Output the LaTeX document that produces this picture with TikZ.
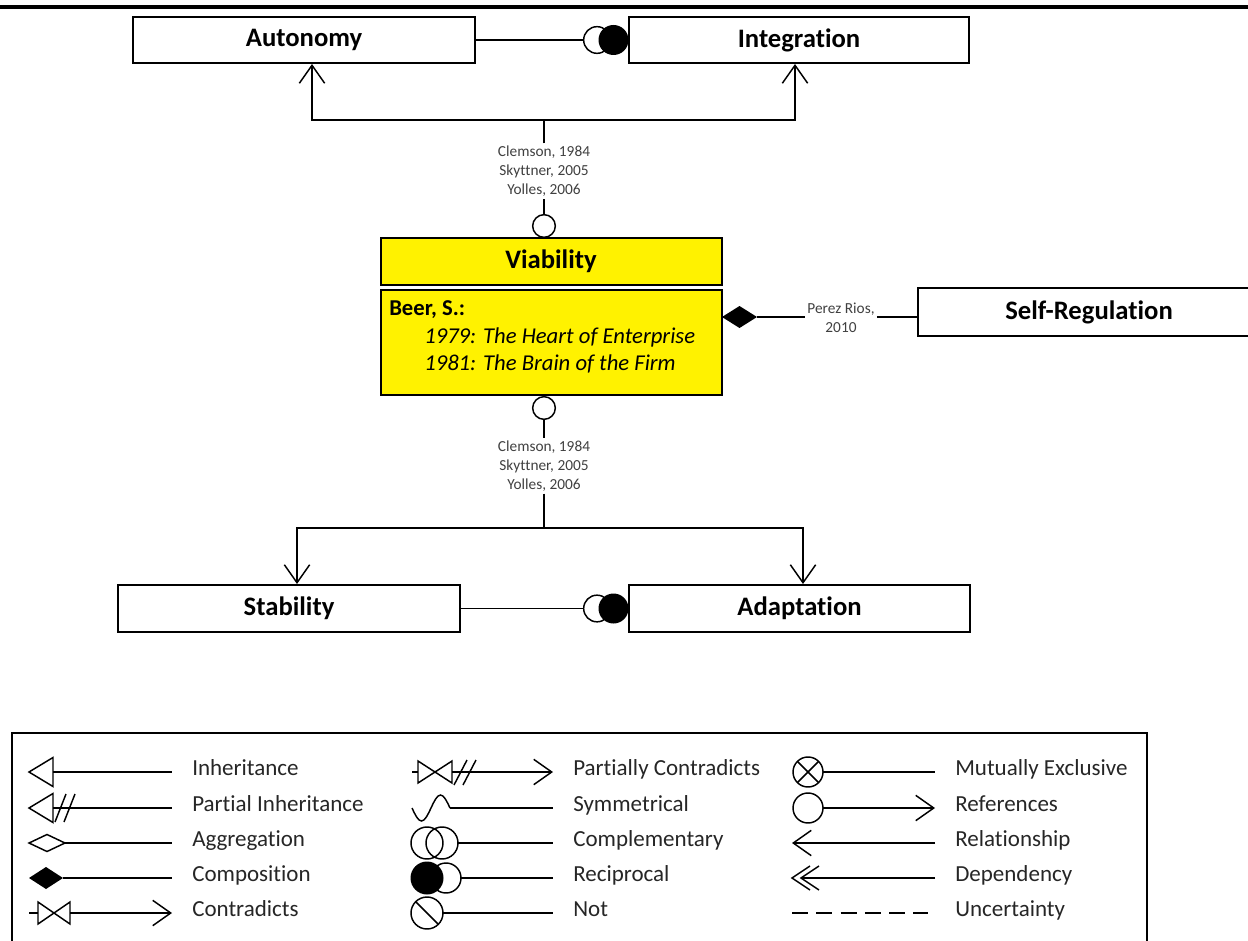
\documentclass[tikz,border=0pt]{standalone}
\usepackage{fontspec}
\setmainfont{Carlito}[Ligatures={NoCommon}]
\usetikzlibrary{arrows.meta,shapes.geometric}
\begin{document}
\begin{tikzpicture}[x=0.75pt,y=-0.75pt,
  box/.style={draw,line width=1.5pt,fill=white,font=\fontsize{20}{24}\selectfont\bfseries,inner sep=0pt},
  conn/.style={line width=1.1pt},
  refarr/.style={conn,-{Straight Barb[length=13.5pt,width=19pt]}},
  small/.style={font=\fontsize{11.5}{14.25}\selectfont,text=black!75,align=center,inner sep=1.5pt},
  legtext/.style={font=\fontsize{17.25}{20}\selectfont,anchor=west,inner sep=0pt,text height=1.55ex,text depth=0.45ex,text=black!85},
  beertext/.style={font=\fontsize{17}{20}\selectfont,anchor=west,inner sep=0pt,text height=1.55ex,text depth=0.45ex},
  ocirc/.style={circle,draw,line width=1.1pt,fill=white,inner sep=0pt},
  fcirc/.style={circle,fill=black,inner sep=0pt}
]
\useasboundingbox (0,0) rectangle (1248,941);
\clip (0,0) rectangle (1248,941);

% top rule
\draw[line width=2.5pt] (0,7) -- (1248,7);

% main boxes
\node[box,minimum width=256.5pt,minimum height=34.5pt] (auto) at (304,40) {Autonomy};
\node[box,minimum width=255pt,minimum height=34.5pt] (integ) at (799,40) {Integration};
\node[box,fill=yellow,minimum width=255.75pt,minimum height=35.25pt] (viab) at (551,261.5) {Viability};
\node[box,fill=yellow,minimum width=255.75pt,minimum height=78.75pt] (beer) at (551,342.5) {};
\node[box,minimum width=256.5pt,minimum height=36pt] (selfreg) at (1089,312) {Self-Regulation};
\node[box,minimum width=256.5pt,minimum height=35.25pt] (stab) at (289,608.5) {Stability};
\node[box,minimum width=255.75pt,minimum height=35.25pt] (adapt) at (799.5,608.5) {Adaptation};

% Beer text
\node[beertext,font=\fontsize{17}{20}\selectfont\bfseries] (beerA) at (389,312) {Beer, S.:};
\node[beertext,font=\fontsize{17}{20}\selectfont\itshape] (beerB) at (424,340) {1979: The Heart of Enterprise};
\node[beertext,font=\fontsize{17}{20}\selectfont\itshape] (beerC) at (424,367) {1981: The Brain of the Firm};

% reciprocal top
\node[ocirc,minimum size=20pt] (rcTo) at (597,40) {};
\node[fcirc,minimum size=22.5pt] (rcTf) at (613.5,40) {};
\draw[conn] (auto.east) -- (rcTo.west);

% reciprocal bottom
\node[ocirc,minimum size=20pt] (rcBo) at (597,608.5) {};
\node[fcirc,minimum size=22.5pt] (rcBf) at (613.5,608.5) {};
\draw[conn] (stab.east) -- (rcBo.west);

% top references tree
\node[ocirc,minimum size=17pt] (refT) at (544,226) {};
\node[small] (lblT) at (544,171) {Clemson, 1984\\Skyttner, 2005\\Yolles, 2006};
\coordinate (jT) at (544,120);
\coordinate (jTL) at (312,120);
\coordinate (jTR) at (795,120);
\draw[conn] (refT) -- (lblT);
\draw[conn] (lblT) -- (jT);
\draw[refarr] (jT) -- (jTL) -- (jTL |- auto.south);
\draw[refarr] (jT) -- (jTR) -- (jTR |- integ.south);

% bottom references tree
\node[ocirc,minimum size=17pt] (refB) at (544,408) {};
\node[small] (lblB) at (544,466) {Clemson, 1984\\Skyttner, 2005\\Yolles, 2006};
\coordinate (jB) at (544,528);
\coordinate (jBL) at (297,528);
\coordinate (jBR) at (803,528);
\draw[conn] (refB) -- (lblB);
\draw[conn] (lblB) -- (jB);
\draw[refarr] (jB) -- (jBL) -- (jBL |- stab.north);
\draw[refarr] (jB) -- (jBR) -- (jBR |- adapt.north);

% composition to self-regulation
\coordinate (dmL) at (722,317);
\coordinate (dmR) at (757,317);
\fill (dmL) -- (739.5,306) -- (dmR) -- (739.5,328) -- cycle;
\node[small] (perez) at (841,318) {Perez Rios,\\2010};
\draw[conn] (dmR) -- (perez.west |- dmR);
\draw[conn] (perez.east |- dmR) -- (selfreg.west |- dmR);

% legend frame
\draw[line width=1.5pt] (12,1000) -- (12,733) -- (1147,733) -- (1147,1000);

% legend column 1
\draw[conn] (53,772) -- (172,772);
\draw[conn] (53,757.5) -- (29,772) -- (53,786.5) -- cycle;
\node[legtext] (t11) at (192,772) {Inheritance};

\draw[conn] (53,808) -- (172,808);
\draw[conn] (53,793.5) -- (29,808) -- (53,822.5) -- cycle;
\draw[conn] (55,822) -- (66,794);
\draw[conn] (64,822) -- (75,794);
\node[legtext] (t12) at (192,808) {Partial Inheritance};

\draw[conn] (29,843) -- (47,834.5) -- (65,843) -- (47,851.5) -- cycle;
\draw[conn] (65,843) -- (172,843);
\node[legtext] (t13) at (192,843) {Aggregation};

\fill (29,878) -- (46,867) -- (63,878) -- (46,889) -- cycle;
\draw[conn] (63,878) -- (172,878);
\node[legtext] (t14) at (192,878) {Composition};

\draw[conn] (29,913) -- (38,913);
\draw[conn] (38,902) -- (70,924) -- (70,902) -- (38,924) -- cycle;
\draw[refarr] (70,913) -- (172,913);
\node[legtext] (t15) at (192,913) {Contradicts};

% legend column 2
\draw[conn] (412,772) -- (418,772);
\draw[conn] (418,761) -- (452,783) -- (452,761) -- (418,783) -- cycle;
\draw[refarr] (452,772) -- (553,772);
\draw[conn] (454,785) -- (467,760);
\draw[conn] (463,785) -- (476,760);
\node[legtext] (t21) at (573,772) {Partially Contradicts};

\draw[conn] (412,808) sin (421.5,821) cos (431,808) sin (440.5,795) cos (450,808);
\draw[conn] (450,808) -- (553,808);
\node[legtext] (t22) at (573,808) {Symmetrical};

\draw[conn] (427,843) circle[radius=16];
\draw[conn] (442,843) circle[radius=16];
\draw[conn] (458,843) -- (553,843);
\node[legtext] (t23) at (573,843) {Complementary};

\draw[conn] (446,878) circle[radius=15];
\fill (427,878) circle[radius=16.5];
\draw[conn] (461,878) -- (553,878);
\node[legtext] (t24) at (573,878) {Reciprocal};

\draw[conn] (427,913) circle[radius=16];
\draw[conn] (415.7,901.7) -- (438.3,924.3);
\draw[conn] (443,913) -- (553,913);
\node[legtext] (t25) at (573,913) {Not};

% legend column 3
\draw[conn] (808,772) circle[radius=15];
\draw[conn] (797.4,761.4) -- (818.6,782.6);
\draw[conn] (797.4,782.6) -- (818.6,761.4);
\draw[conn] (823,772) -- (935,772);
\node[legtext] (t31) at (955,772) {Mutually Exclusive};

\draw[conn] (808,808) circle[radius=15];
\draw[refarr] (823,808) -- (935,808);
\node[legtext] (t32) at (955,808) {References};

\draw[refarr] (935,843) -- (792,843);
\node[legtext] (t33) at (955,843) {Relationship};

\draw[conn] (935,878) -- (801,878);
\draw[conn] (810,866) -- (792,878) -- (810,890);
\draw[conn] (819,866) -- (801,878) -- (819,890);
\node[legtext] (t34) at (955,878) {Dependency};

\draw[conn,dash pattern=on 12pt off 6.2pt] (792,913) -- (928,913);
\node[legtext] (t35) at (955,913) {Uncertainty};
\end{tikzpicture}
\end{document}
